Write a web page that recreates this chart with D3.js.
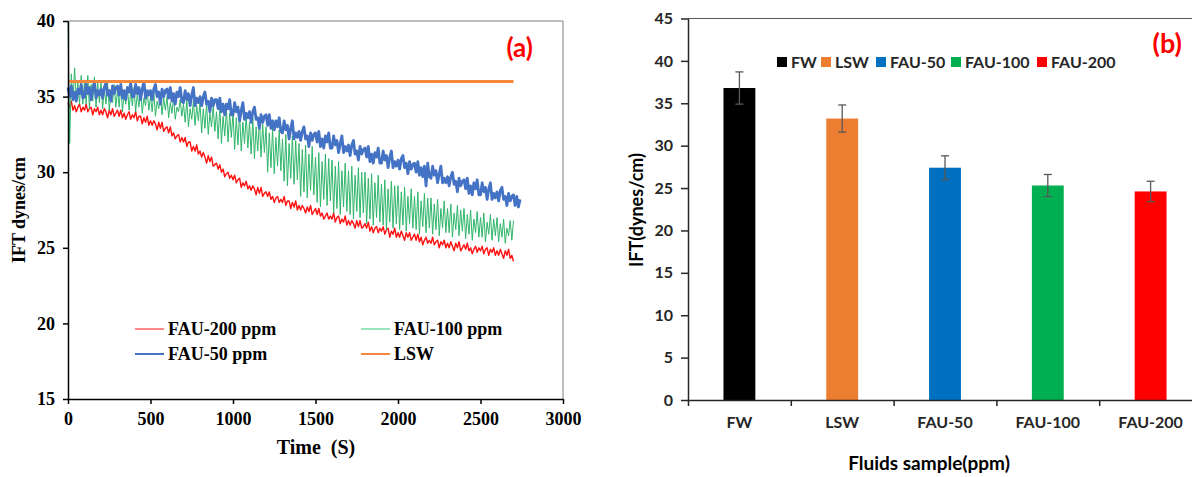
<!DOCTYPE html>
<html>
<head>
<meta charset="utf-8">
<script src="https://cdn.jsdelivr.net/npm/d3@7"></script>
<style>
  body { margin: 0; background: #fff; }
  svg { display: block; }
</style>
</head>
<body>
<script>
// ---- data: panel (a), IFT vs time, one sample every 10 s ----
const timeStep = 10;
const fau200 = [
  34.6, 34.3, 34.7, 34.1, 34.4, 34.0, 34.3, 34.5, 34.0, 34.3,
  34.1, 34.5, 34.0, 34.2, 34.3, 33.8, 34.2, 34.0, 34.3, 33.8,
  34.1, 33.8, 34.2, 34.0, 33.6, 34.1, 33.8, 34.2, 33.7, 33.9,
  34.1, 33.7, 34.1, 33.6, 33.9, 33.5, 33.8, 34.0, 33.5, 33.8,
  33.6, 34.0, 33.4, 33.7, 33.7, 33.2, 33.6, 33.3, 33.7, 33.1,
  33.4, 33.1, 33.4, 33.2, 32.8, 33.3, 32.9, 33.3, 32.7, 32.9,
  33.0, 32.6, 33.0, 32.4, 32.6, 32.2, 32.4, 32.5, 32.0, 32.3,
  32.0, 32.3, 31.7, 32.0, 32.0, 31.4, 31.7, 31.4, 31.8, 31.2,
  31.4, 31.0, 31.3, 31.0, 30.6, 31.1, 30.7, 31.0, 30.4, 30.5,
  30.6, 30.2, 30.5, 30.0, 30.2, 29.7, 29.9, 30.0, 29.6, 29.8,
  29.5, 29.8, 29.3, 29.5, 29.6, 29.0, 29.3, 29.1, 29.4, 28.9,
  29.1, 28.8, 29.1, 28.9, 28.5, 29.0, 28.6, 29.0, 28.4, 28.6,
  28.7, 28.4, 28.7, 28.2, 28.4, 28.0, 28.3, 28.4, 28.0, 28.2,
  28.0, 28.4, 27.8, 28.1, 28.1, 27.6, 28.0, 27.7, 28.1, 27.5,
  27.8, 27.5, 27.8, 27.6, 27.3, 27.7, 27.4, 27.8, 27.2, 27.4,
  27.6, 27.2, 27.6, 27.1, 27.3, 26.9, 27.1, 27.3, 26.9, 27.1,
  26.9, 27.3, 26.7, 27.0, 27.1, 26.6, 26.9, 26.7, 27.1, 26.5,
  26.8, 26.5, 26.8, 26.6, 26.3, 26.8, 26.4, 26.8, 26.3, 26.4,
  26.6, 26.3, 26.7, 26.1, 26.4, 26.0, 26.3, 26.4, 26.0, 26.3,
  26.1, 26.4, 25.9, 26.2, 26.3, 25.7, 26.1, 25.9, 26.3, 25.7,
  26.0, 25.7, 26.1, 25.8, 25.5, 26.0, 25.7, 26.0, 25.5, 25.7,
  25.9, 25.5, 25.9, 25.4, 25.7, 25.2, 25.5, 25.7, 25.3, 25.5,
  25.3, 25.7, 25.2, 25.4, 25.5, 25.0, 25.4, 25.2, 25.5, 25.0,
  25.3, 25.0, 25.4, 25.1, 24.8, 25.3, 25.0, 25.4, 24.8, 25.0,
  25.2, 24.9, 25.3, 24.8, 25.0, 24.6, 24.9, 25.1, 24.7, 25.0,
  24.8, 25.1, 24.6, 24.9, 25.0, 24.5, 24.9, 24.7, 25.0, 24.5,
  24.8, 24.5, 24.9, 24.6, 24.3, 24.8, 24.5, 24.9, 24.3, 24.5,
  24.1
];
const fau100 = [
  40.0, 31.9, 36.5, 34.7, 36.9, 34.8, 35.9, 34.5, 36.4, 34.5,
  36.1, 34.5, 36.4, 34.2, 35.8, 34.7, 36.3, 34.3, 36.0, 34.6,
  36.0, 34.2, 35.6, 34.5, 35.9, 34.1, 35.3, 34.6, 35.8, 34.3,
  35.5, 34.3, 35.8, 34.0, 35.2, 34.5, 35.7, 34.1, 35.4, 34.4,
  35.6, 34.0, 35.2, 34.3, 35.5, 33.9, 34.9, 34.4, 35.4, 34.1,
  35.0, 34.0, 35.3, 33.7, 34.7, 34.2, 35.2, 33.8, 34.9, 34.1,
  35.0, 33.6, 34.6, 33.9, 34.9, 33.5, 34.3, 34.0, 34.8, 33.7,
  34.5, 33.3, 34.8, 33.0, 34.2, 33.5, 34.7, 33.1, 34.4, 33.4,
  34.6, 32.6, 34.2, 32.9, 34.5, 32.5, 33.9, 33.0, 34.4, 32.7,
  34.0, 32.2, 34.3, 31.9, 33.7, 32.4, 34.2, 32.0, 33.9, 32.3,
  34.0, 31.5, 33.6, 31.8, 33.9, 31.4, 33.3, 31.9, 33.8, 31.6,
  33.3, 31.2, 33.6, 30.9, 33.0, 31.4, 33.5, 31.0, 33.2, 31.3,
  33.0, 30.0, 32.6, 30.3, 32.9, 29.9, 32.3, 30.4, 32.8, 30.1,
  32.2, 29.4, 32.5, 29.1, 31.9, 29.6, 32.4, 29.2, 32.1, 29.5,
  31.9, 28.4, 31.5, 28.7, 31.8, 28.3, 31.2, 28.8, 31.7, 28.5,
  31.0, 28.0, 31.3, 27.7, 30.7, 28.2, 31.2, 27.8, 30.9, 28.1,
  30.8, 27.3, 30.4, 27.6, 30.7, 27.2, 30.1, 27.7, 30.6, 27.4,
  30.1, 27.2, 30.4, 26.9, 29.8, 27.4, 30.3, 27.0, 30.0, 27.3,
  30.0, 26.6, 29.6, 26.9, 29.9, 26.5, 29.3, 27.0, 29.8, 26.7,
  29.2, 26.5, 29.5, 26.2, 28.9, 26.7, 29.4, 26.3, 29.1, 26.6,
  29.1, 26.2, 28.7, 26.5, 29.0, 26.1, 28.4, 26.6, 28.9, 26.3,
  28.4, 26.2, 28.7, 25.9, 28.1, 26.4, 28.6, 26.0, 28.3, 26.3,
  28.3, 25.9, 27.9, 26.2, 28.2, 25.8, 27.6, 26.3, 28.1, 26.0,
  27.6, 26.0, 27.9, 25.7, 27.3, 26.2, 27.8, 25.8, 27.5, 26.1,
  27.6, 25.6, 27.2, 25.9, 27.5, 25.5, 26.9, 26.0, 27.4, 25.7,
  27.0, 25.7, 27.3, 25.4, 26.7, 25.9, 27.2, 25.5, 26.9, 25.8,
  27.0, 25.4, 26.6, 25.7, 26.9, 25.3, 26.3, 25.8, 26.8, 25.5,
  26.8
];
const fau50 = [
  35.6, 35.0, 35.7, 34.8, 35.3, 34.7, 35.5, 35.2, 35.8, 34.9,
  35.0, 35.8, 35.2, 35.6, 34.8, 35.5, 36.0, 34.9, 35.4, 35.1,
  35.5, 34.9, 35.6, 35.9, 35.1, 35.4, 34.7, 35.7, 35.2, 35.6,
  35.7, 35.1, 35.8, 34.9, 35.4, 34.8, 35.6, 35.3, 35.9, 35.0,
  35.0, 35.8, 35.2, 35.6, 34.8, 35.5, 36.0, 34.9, 35.4, 35.1,
  35.4, 34.8, 35.5, 35.8, 35.0, 35.3, 34.5, 35.5, 35.0, 35.4,
  35.5, 34.9, 35.6, 34.7, 35.2, 34.5, 35.3, 35.0, 35.6, 34.7,
  34.6, 35.4, 34.8, 35.2, 34.4, 35.1, 35.6, 34.4, 34.9, 34.6,
  35.0, 34.4, 35.0, 35.3, 34.5, 34.7, 34.0, 34.9, 34.4, 34.8,
  34.8, 34.2, 34.9, 34.0, 34.5, 33.8, 34.5, 34.2, 34.8, 33.8,
  33.8, 34.6, 34.0, 34.3, 33.4, 34.1, 34.6, 33.5, 33.9, 33.6,
  34.0, 33.3, 34.0, 34.3, 33.5, 33.6, 32.9, 33.8, 33.3, 33.7,
  33.8, 33.1, 33.8, 32.9, 33.4, 32.8, 33.4, 33.0, 33.6, 32.7,
  32.6, 33.4, 32.8, 33.1, 32.2, 32.9, 33.4, 32.2, 32.6, 32.3,
  32.7, 32.1, 32.7, 33.0, 32.2, 32.4, 31.7, 32.6, 32.1, 32.5,
  32.6, 32.0, 32.7, 31.7, 32.2, 31.6, 32.4, 32.0, 32.6, 31.6,
  31.6, 32.4, 31.8, 32.1, 31.3, 31.9, 32.4, 31.3, 31.7, 31.4,
  31.8, 31.1, 31.8, 32.1, 31.2, 31.4, 30.8, 31.7, 31.2, 31.5,
  31.6, 31.0, 31.7, 30.7, 31.2, 30.6, 31.3, 31.0, 31.6, 30.6,
  30.6, 31.4, 30.8, 31.1, 30.3, 31.0, 31.4, 30.3, 30.7, 30.4,
  30.8, 30.2, 30.9, 31.1, 30.3, 30.6, 29.9, 30.7, 30.2, 30.5,
  30.6, 30.0, 30.7, 29.8, 30.3, 29.7, 30.4, 29.1, 30.6, 29.7,
  29.6, 30.4, 29.8, 30.1, 29.3, 29.9, 30.4, 29.3, 29.6, 29.3,
  29.7, 29.1, 29.7, 30.0, 29.2, 29.4, 28.7, 29.6, 29.1, 29.4,
  29.5, 28.9, 29.6, 28.6, 29.1, 28.5, 29.3, 28.9, 29.5, 28.5,
  28.5, 29.3, 28.7, 29.0, 28.2, 28.9, 29.3, 28.2, 28.6, 28.3,
  28.7, 28.1, 28.8, 29.0, 28.2, 28.4, 27.8, 28.6, 28.1, 28.4,
  28.5, 27.8, 28.4, 27.7, 28.2
];
const lswTime = [0, 2700];
const lswValues = [36, 36];
const xTicksA = [0, 500, 1000, 1500, 2000, 2500, 3000];
const yTicksA = [15, 20, 25, 30, 35, 40];

// ---- data: panel (b), IFT per fluid ----
const barCategories = ["FW", "LSW", "FAU-50", "FAU-100", "FAU-200"];
const barValues = [36.8, 33.2, 27.4, 25.3, 24.6];
const barErrors = [1.9, 1.6, 1.4, 1.3, 1.2];
const yTicksB = [0, 5, 10, 15, 20, 25, 30, 35, 40, 45];

const svg = d3.select("body").append("svg")
  .attr("width", 1192).attr("height", 477);

// =========== panel (a) ===========
const serif = "'Liberation Serif', 'Times New Roman', serif";
const xA = d3.scaleLinear().domain([0, 3000]).range([68, 563]);
const yA = d3.scaleLinear().domain([15, 40]).range([399, 21]);

const gA = svg.append("g");

// plot frame (top/right)
gA.append("path")
  .attr("d", `M${xA(0)},${yA(40)}H${xA(3000)}V${yA(15)}`)
  .attr("fill", "none").attr("stroke", "#7f7f7f").attr("stroke-width", 1);

const toPoints = arr => arr.map((v, i) => [i * timeStep, v]);
const line = d3.line().x(d => xA(d[0])).y(d => yA(d[1]));

const seriesA = [
  { name: "FAU-200 ppm", pts: toPoints(fau200), color: "#ff1111", w: 1.4 },
  { name: "FAU-100 ppm", pts: toPoints(fau100), color: "#2fb66a", w: 1 },
  { name: "FAU-50 ppm", pts: toPoints(fau50), color: "#4472c4", w: 2.8 },
  { name: "LSW", pts: lswTime.map((t, i) => [t, lswValues[i]]), color: "#f5883a", w: 3 }
];

gA.selectAll("path.series").data(seriesA).enter().append("path")
  .attr("class", "series")
  .attr("d", d => line(d.pts))
  .attr("fill", "none")
  .attr("stroke", d => d.color)
  .attr("stroke-width", d => d.w)
  .attr("stroke-linejoin", "round");

const axisLeftA = gA.append("g")
  .attr("transform", `translate(${xA(0)},0)`)
  .call(d3.axisLeft(yA).tickValues(yTicksA).tickSize(5).tickSizeOuter(0));
const axisBottomA = gA.append("g")
  .attr("transform", `translate(0,${yA(15)})`)
  .call(d3.axisBottom(xA).tickValues(xTicksA).tickFormat(d3.format("d")).tickSize(5).tickSizeOuter(0));

[axisLeftA, axisBottomA].forEach(ax => {
  ax.select(".domain").attr("stroke", "#000").attr("stroke-width", 1.5);
  ax.selectAll(".tick line").attr("stroke", "#000").attr("stroke-width", 1.5);
  ax.selectAll("text")
    .attr("font-family", serif).attr("font-weight", "bold")
    .attr("font-size", 18).attr("fill", "#000");
});
axisLeftA.selectAll("text").attr("x", -13);
axisBottomA.selectAll("text").attr("y", 13);

gA.append("text")
  .attr("x", 316).attr("y", 454)
  .attr("text-anchor", "middle")
  .attr("font-family", serif).attr("font-weight", "bold").attr("font-size", 20)
  .attr("xml:space", "preserve")
  .text("Time  (S)");

gA.append("text")
  .attr("transform", `translate(25,210) rotate(-90)`)
  .attr("text-anchor", "middle")
  .attr("font-family", serif).attr("font-weight", "bold").attr("font-size", 18)
  .text("IFT dynes/cm");

gA.append("text")
  .attr("x", 533).attr("y", 57)
  .attr("text-anchor", "end")
  .attr("font-family", "Lato, 'Open Sans', sans-serif").attr("font-weight", "bold")
  .attr("font-size", 26).attr("fill", "#ff0000")
  .text("(a)");

// legend (a)
const legA = [
  { s: seriesA[0], x: 135, y: 329, lw: 1 },
  { s: seriesA[1], x: 361, y: 329, lw: 1.3, color: "#66d69b" },
  { s: seriesA[2], x: 135, y: 354, lw: 2 },
  { s: seriesA[3], x: 361, y: 354, lw: 2 }
];
const legAG = gA.selectAll("g.leg").data(legA).enter().append("g")
  .attr("class", "leg")
  .attr("transform", d => `translate(${d.x},${d.y})`);
legAG.append("line")
  .attr("x1", 0).attr("x2", 29).attr("y1", 0).attr("y2", 0)
  .attr("stroke", d => d.color || d.s.color)
  .attr("stroke-width", d => d.lw);
legAG.append("text")
  .attr("x", 33).attr("y", 6)
  .attr("font-family", serif).attr("font-weight", "bold").attr("font-size", 18)
  .text(d => d.s.name);

// =========== panel (b) ===========
const sans = "Lato, 'Open Sans', sans-serif";
const barColors = ["#000000", "#ed7d31", "#0070c0", "#00b050", "#ff0000"];
const xB = d3.scaleBand().domain(barCategories).range([688, 1202]).paddingInner(0.69).paddingOuter(0.345);
const yB = d3.scaleLinear().domain([0, 45]).range([400, 18.5]);

const gB = svg.append("g");

gB.append("line")
  .attr("x1", 688).attr("x2", 1202).attr("y1", yB(45)).attr("y2", yB(45))
  .attr("stroke", "#595959").attr("stroke-width", 1.2);

gB.selectAll("rect.bar").data(barCategories).enter().append("rect")
  .attr("class", "bar")
  .attr("x", d => xB(d))
  .attr("width", xB.bandwidth())
  .attr("y", (d, i) => yB(barValues[i]))
  .attr("height", (d, i) => yB(0) - yB(barValues[i]))
  .attr("fill", (d, i) => barColors[i]);

const err = gB.selectAll("g.err").data(barCategories).enter().append("g")
  .attr("class", "err")
  .attr("transform", d => `translate(${xB(d) + xB.bandwidth() / 2},0)`);
err.append("line")
  .attr("y1", (d, i) => yB(barValues[i] + barErrors[i]))
  .attr("y2", (d, i) => yB(barValues[i] - barErrors[i]))
  .attr("stroke", "#595959").attr("stroke-width", 1.3);
err.append("line").attr("x1", -4).attr("x2", 4)
  .attr("y1", (d, i) => yB(barValues[i] + barErrors[i]))
  .attr("y2", (d, i) => yB(barValues[i] + barErrors[i]))
  .attr("stroke", "#595959").attr("stroke-width", 1.3);
err.append("line").attr("x1", -4).attr("x2", 4)
  .attr("y1", (d, i) => yB(barValues[i] - barErrors[i]))
  .attr("y2", (d, i) => yB(barValues[i] - barErrors[i]))
  .attr("stroke", "#595959").attr("stroke-width", 1.3);

const axisLeftB = gB.append("g")
  .attr("transform", "translate(688,0)")
  .call(d3.axisLeft(yB).tickValues(yTicksB).tickSize(7).tickSizeOuter(0));
const xTickScale = d3.scaleLinear().domain([0, barCategories.length]).range([688, 1202]);
const axisBottomB = gB.append("g")
  .attr("transform", `translate(0,${yB(0)})`)
  .call(d3.axisBottom(xTickScale).tickValues(d3.range(0, barCategories.length)).tickSize(6).tickFormat("").tickSizeOuter(0));
gB.append("g")
  .attr("transform", `translate(0,${yB(0)})`)
  .call(d3.axisBottom(xB).tickSize(0))
  .call(g => g.select(".domain").remove())
  .selectAll("text")
  .attr("y", 17)
  .attr("font-family", sans).attr("font-weight", "bold").attr("font-size", 16)
  .attr("fill", "#262626");

[axisLeftB, axisBottomB].forEach(ax => {
  ax.select(".domain").attr("stroke", "#262626").attr("stroke-width", 1.5);
  ax.selectAll(".tick line").attr("stroke", "#262626").attr("stroke-width", 1.5);
});
axisLeftB.selectAll("text")
  .attr("x", -15)
  .attr("font-family", sans).attr("font-weight", "bold").attr("font-size", 16)
  .attr("fill", "#262626");

gB.append("text")
  .attr("transform", "translate(643,210) rotate(-90)")
  .attr("text-anchor", "middle")
  .attr("font-family", sans).attr("font-weight", "bold").attr("font-size", 18)
  .attr("fill", "#000")
  .text("IFT(dynes/cm)");

gB.append("text")
  .attr("x", 929).attr("y", 470)
  .attr("text-anchor", "middle")
  .attr("font-family", sans).attr("font-weight", "bold").attr("font-size", 19)
  .attr("fill", "#000")
  .text("Fluids sample(ppm)");

gB.append("text")
  .attr("x", 1182).attr("y", 53)
  .attr("text-anchor", "end")
  .attr("font-family", sans).attr("font-weight", "bold")
  .attr("font-size", 27).attr("fill", "#ff0000")
  .text("(b)");

// legend (b)
const legBx = [777, 821, 876, 951, 1037];
const legBG = gB.selectAll("g.legb").data(barCategories).enter().append("g")
  .attr("class", "legb")
  .attr("transform", (d, i) => `translate(${legBx[i]},62)`);
legBG.append("rect")
  .attr("x", 0).attr("y", -5).attr("width", 10).attr("height", 10)
  .attr("fill", (d, i) => barColors[i]);
legBG.append("text")
  .attr("x", 14).attr("y", 6)
  .attr("font-family", sans).attr("font-weight", "bold").attr("font-size", 16)
  .attr("fill", "#262626")
  .text(d => d);
</script>
</body>
</html>
